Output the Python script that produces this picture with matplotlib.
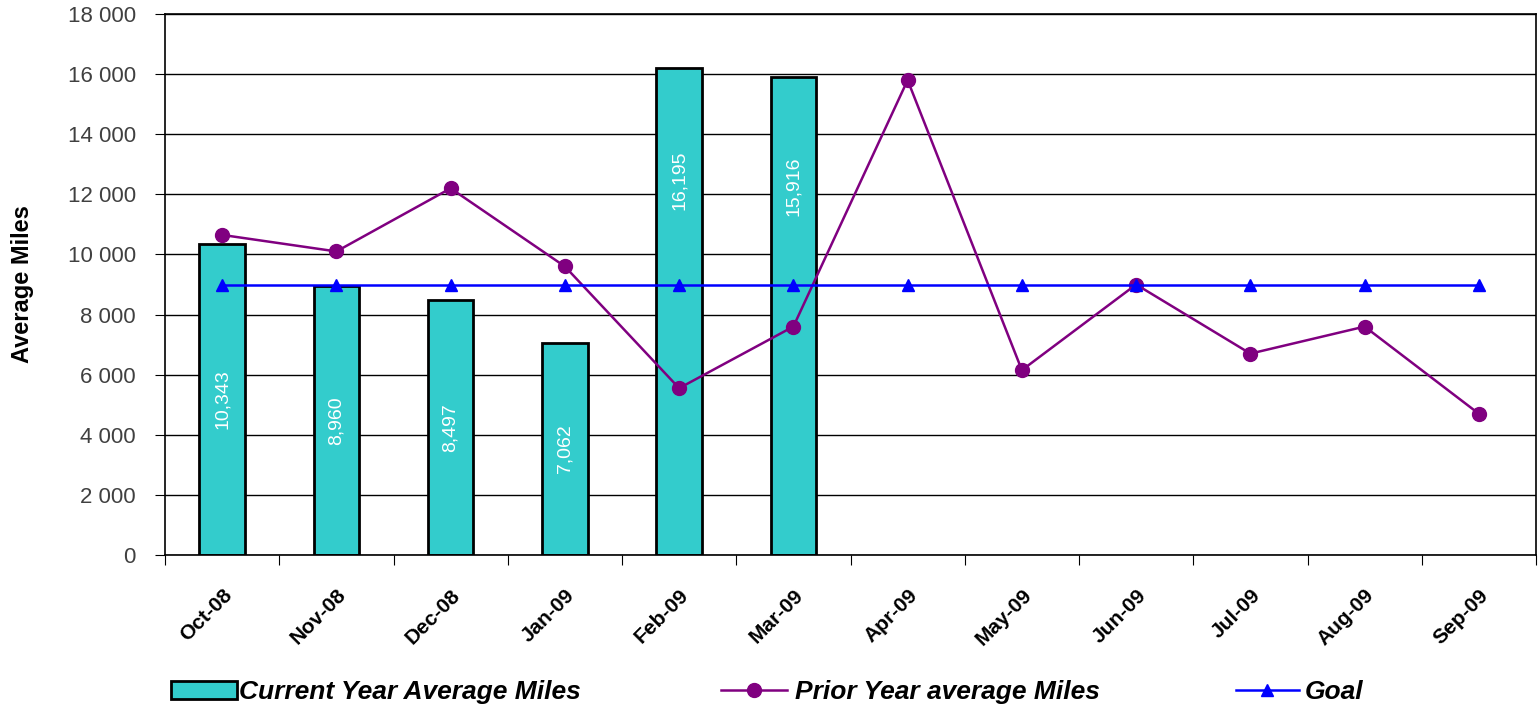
import matplotlib.pyplot as plt
import numpy as np

months = ['Oct-08', 'Nov-08', 'Dec-08', 'Jan-09', 'Feb-09', 'Mar-09',
          'Apr-09', 'May-09', 'Jun-09', 'Jul-09', 'Aug-09', 'Sep-09']
current_year = [10343, 8960, 8497, 7062, 16195, 15916]
prior_year = [10650, 10100, 12200, 9600, 5550, 7600,
              15800, 6150, 9000, 6700, 7600, 4700]
goal = [9000] * 12
y_ticks = [0, 2000, 4000, 6000, 8000, 10000, 12000, 14000, 16000, 18000]

plt.rcParams['font.family'] = ['Liberation Sans', 'DejaVu Sans']

fig = plt.figure(figsize=(15.39, 7.08), dpi=100)
ax = fig.add_axes([165 / 1539, 1 - 555 / 708, (1536 - 165) / 1539, (555 - 14) / 708])

x = np.arange(len(months))
bx = x[:len(current_year)]
bars = ax.bar(bx, current_year, width=0.4, color='#33CCCC', edgecolor='black',
              linewidth=2, label='Current Year Average Miles', zorder=2)
# excel puts the labels a bit off-centre; tall bars get them higher up
for xi, v in zip(bx, current_year):
    ly = v / 2 if v < 12000 else v * 0.77
    ly = min(ly, 4700) if v < 10000 else ly
    ax.text(xi, ly, f'{v:,}', rotation=90, ha='center', va='center',
            color='white', fontsize=14, zorder=3)

l1, = ax.plot(x, prior_year, color='#800080', marker='o', markersize=10, linewidth=1.8,
              label='Prior Year average Miles', zorder=4)
l2, = ax.plot(x, goal, color='#0000FF', marker='^', markersize=9, linewidth=1.8,
              label='Goal', zorder=5)

ax.set_xlim(-0.5, len(months) - 0.5)
ax.set_ylim(0, 18000)
ax.set_yticks(y_ticks)
ax.set_yticklabels([f'{t:,}'.replace(',', ' ') for t in y_ticks], fontsize=16, color='#404040')
ax.yaxis.grid(True, color='black', linewidth=1, zorder=0)
ax.set_axisbelow(True)

# ticks between categories like excel
ax.set_xticks(np.arange(len(months) + 1) - 0.5, minor=False)
ax.set_xticklabels([])
ax.set_xticks(x, minor=True)
ax.set_xticklabels(months, minor=True, rotation=45, ha='right', rotation_mode='anchor',
                   fontsize=15, fontweight='bold')
ax.tick_params(axis='x', which='minor', length=0, pad=22)
ax.tick_params(axis='x', which='major', length=7, direction='out')
ax.tick_params(axis='y', length=7, direction='out', pad=14)
for s in ax.spines.values():
    s.set_linewidth(1.2)

ax.set_ylabel('Average Miles', fontsize=17, fontweight='bold', labelpad=24)

lp = {'size': 19, 'weight': 'bold', 'style': 'italic'}
fig.legend(handles=[bars], loc='center left', bbox_to_anchor=(147 / 1539, 1 - 692 / 708),
           frameon=False, prop=lp, handlelength=2.5, handletextpad=0.1)
fig.legend(handles=[l1], loc='center left', bbox_to_anchor=(697 / 1539, 1 - 692 / 708),
           frameon=False, prop=lp, handlelength=2.5, handletextpad=0.3)
fig.legend(handles=[l2], loc='center left', bbox_to_anchor=(1212 / 1539, 1 - 692 / 708),
           frameon=False, prop=lp, handlelength=2.4, handletextpad=0.2)

fig.savefig('out.png', dpi=100)
